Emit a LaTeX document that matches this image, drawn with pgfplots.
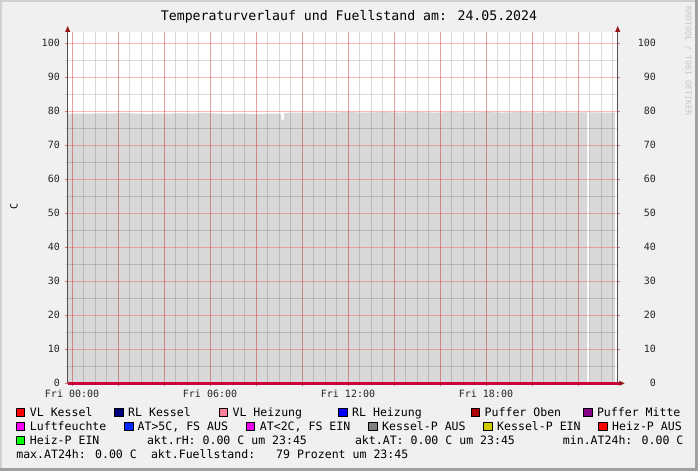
\documentclass[border=0pt]{standalone}
\usepackage{pgfplots}
\pgfplotsset{compat=1.18}
\usepackage{fontspec}
\setmainfont{DejaVu Sans Mono}
\definecolor{bg}{RGB}{240,240,240}
\definecolor{lightborder}{RGB}{208,208,208}
\definecolor{darkborder}{RGB}{160,160,160}
\definecolor{areagray}{RGB}{216,216,216}
\definecolor{zeroline}{RGB}{204,0,68}
\definecolor{arrowred}{RGB}{150,22,22}
\definecolor{axisgray}{RGB}{80,80,80}
\definecolor{cVLK}{RGB}{255,0,0}
\definecolor{cRLK}{RGB}{0,0,128}
\definecolor{cVLH}{RGB}{255,128,153}
\definecolor{cRLH}{RGB}{0,0,255}
\definecolor{cPO}{RGB}{170,0,0}
\definecolor{cPM}{RGB}{136,0,136}
\definecolor{cLF}{RGB}{255,0,255}
\definecolor{cAT5}{RGB}{0,40,255}
\definecolor{cAT2}{RGB}{238,0,238}
\definecolor{cKPA}{RGB}{128,128,128}
\definecolor{cKPE}{RGB}{204,204,0}
\definecolor{cHPA}{RGB}{255,0,0}
\definecolor{cHPE}{RGB}{0,255,0}
\newcommand{\tickfont}{\fontsize{10bp}{12bp}\selectfont}
\newcommand{\legfont}{\fontsize{11.55bp}{14bp}\selectfont}
\newcommand{\lsq}[3]{\filldraw[fill=#3, draw=black, line width=0.8bp] (#1+0.4,-#2+7.9) rectangle (#1+8.6,-#2-0.3);}
\newcommand{\ltx}[3]{\node[anchor=base west, inner sep=0pt, font=\legfont] at (#1,-#2) {#3};}
\begin{document}
\begin{tikzpicture}
\begin{scope}[x=1bp,y=1bp]
\useasboundingbox (0,0) rectangle (698,-471);
\fill[bg] (0,0) rectangle (698,-471);
\fill[lightborder] (0,0) rectangle (698,-2);
\fill[lightborder] (0,0) rectangle (2,-471);
\fill[darkborder] (0,-468) rectangle (698,-471);
\fill[darkborder] (695,0) rectangle (698,-471);
\end{scope}

\begin{axis}[
  at={(67.7bp,-383bp)}, anchor=south west,
  scale only axis, width=550bp, height=351.3bp,
  xmin=-0.19, xmax=23.73, ymin=0, ymax=103.4,
  clip=false,
  axis on top,
  axis background/.style={fill=white},
  axis line style={draw=none},
  xtick={0,2,...,22},
  xticklabels={Fri 00:00,,,Fri 06:00,,,Fri 12:00,,,Fri 18:00,,},
  minor xtick={0,0.5,...,23.5},
  ytick={0,10,...,100},
  minor ytick={5,15,...,95},
  xtick pos=bottom, ytick pos=left,
  tick align=outside,
  major tick length=3bp, minor tick length=2bp,
  grid=both,
  major grid style={draw=red, opacity=0.27, line width=0.7bp},
  minor grid style={draw=black, opacity=0.14, line width=0.7bp},
  major tick style={draw=red!70!black, opacity=0.5, line width=0.8bp},
  minor tick style={draw=black, opacity=0.25, line width=0.8bp},
  ticklabel style={font=\tickfont, text=black!85},
  xticklabel style={anchor=north, inner sep=0pt, yshift=-4bp},
  yticklabel style={anchor=east, inner sep=0pt, xshift=-4.7bp},
  /pgf/number format/assume math mode=true,
]
\addplot[draw=none, fill=areagray] coordinates {
(-0.19,79.3) (0.25,79.3) (0.75,79.2) (1.25,79.4) (1.75,79.3) (2.25,79.5) (2.75,79.3) (3.25,79.2) (3.75,79.3) (4.25,79.3) (4.75,79.4) (5.25,79.3) (5.75,79.5) (6.25,79.3) (6.75,79.2) (7.25,79.3) (7.75,79.2) (8.25,79.2) (8.75,79.3) (9.08,79.3) (9.12,77.4) (9.20,77.4) (9.24,79.5) (9.75,79.6) (10.25,79.6) (10.75,79.7) (11.25,79.6) (11.75,79.7) (12.25,79.7) (12.75,79.6) (13.25,79.7) (13.75,79.7) (14.25,79.6) (14.75,79.7) (15.25,79.7) (15.75,79.6) (16.25,79.7) (16.75,79.7) (17.25,79.6) (17.75,79.7) (18.25,79.7) (18.75,79.6) (19.25,79.7) (19.75,79.7) (20.25,79.6) (20.75,79.7) (21.25,79.7) (21.75,79.6) (22.40,79.7)
} \closedcycle;
\addplot[draw=none, fill=areagray] coordinates {
(22.50,79.7) (23.00,79.6) (23.61,79.6)
} \closedcycle;
\addplot[draw=zeroline, line width=3bp] coordinates {(-0.19,0) (23.73,0)};
\end{axis}

\begin{axis}[
  at={(67.7bp,-383bp)}, anchor=south west,
  scale only axis, width=550bp, height=351.3bp,
  xmin=-0.19, xmax=23.73, ymin=0, ymax=103.4,
  hide x axis,
  axis line style={draw=none},
  ytick={0,10,...,100},
  ytick pos=right, yticklabel pos=right,
  major tick length=2bp, tick align=outside,
  major tick style={draw=red!70!black, opacity=0.5, line width=0.8bp},
  ticklabel style={font=\tickfont, text=black!85},
  yticklabel style={anchor=east, inner sep=0pt, xshift=36.3bp},
  /pgf/number format/assume math mode=true,
]
\end{axis}

\begin{scope}[x=1bp,y=1bp]
% axis lines and arrows
\draw[axisgray, line width=1bp] (67.7,-383) -- (67.7,-29);
\draw[axisgray, line width=1bp] (617.7,-383) -- (617.7,-29);
\fill[arrowred] (65.2,-31.8) -- (67.7,-26) -- (70.2,-31.8) -- cycle;
\fill[arrowred] (615.2,-31.8) -- (617.7,-26) -- (620.2,-31.8) -- cycle;
\draw[zeroline, line width=3bp] (617.7,-383.3) -- (619.6,-383.3);
\fill[arrowred] (619.3,-380.8) -- (624.6,-383.3) -- (619.3,-385.8) -- cycle;

% title, labels
\node[anchor=base, inner sep=0pt, font=\fontsize{13.2bp}{16bp}\selectfont] at (349,-20.3) {Temperaturverlauf und Fuellstand am: 24.05.2024};
\node[rotate=90, inner sep=0pt, font=\tickfont] at (14,-206.7) {C};
\node[rotate=-90, inner sep=0pt, font=\fontsize{8.2bp}{10bp}\selectfont, text=black!22] at (688.3,-60.8) {RRDTOOL / TOBI OETIKER};

% legend
\lsq{16}{416}{cVLK}\ltx{29.7}{416}{VL Kessel}
\lsq{114.3}{416}{cRLK}\ltx{128}{416}{RL Kessel}
\lsq{219}{416}{cVLH}\ltx{232.4}{416}{VL Heizung}
\lsq{338.3}{416}{cRLH}\ltx{352}{416}{RL Heizung}
\lsq{471}{416}{cPO}\ltx{484.5}{416}{Puffer Oben}
\lsq{583.3}{416}{cPM}\ltx{596.8}{416}{Puffer Mitte}

\lsq{16}{430}{cLF}\ltx{29.7}{430}{Luftfeuchte}
\lsq{124.3}{430}{cAT5}\ltx{137.4}{430}{AT>5C, FS AUS}
\lsq{246}{430}{cAT2}\ltx{259.7}{430}{AT<2C, FS EIN}
\lsq{368.3}{430}{cKPA}\ltx{382}{430}{Kessel-P AUS}
\lsq{483.3}{430}{cKPE}\ltx{497}{430}{Kessel-P EIN}
\lsq{598.3}{430}{cHPA}\ltx{612}{430}{Heiz-P AUS}

\lsq{16}{444}{cHPE}\ltx{29.7}{444}{Heiz-P EIN}
\ltx{146.8}{444}{akt.rH: 0.00 C um 23:45}
\ltx{354.8}{444}{akt.AT: 0.00 C um 23:45}
\ltx{562.7}{444}{min.AT24h: 0.00 C}

\ltx{16.1}{458}{max.AT24h: 0.00 C}
\ltx{150.8}{458}{akt.Fuellstand:~~~79 Prozent um 23:45}
\end{scope}
\end{tikzpicture}
\end{document}
